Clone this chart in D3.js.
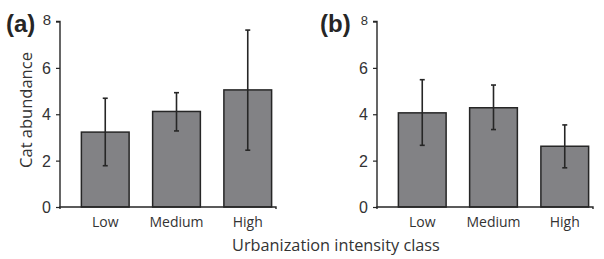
<!DOCTYPE html>
<html>
<head>
<meta charset="utf-8">
<script src="https://cdn.jsdelivr.net/npm/d3@7"></script>
<style>
  body { margin: 0; background: #fff; }
  svg { display: block; }
</style>
</head>
<body>
<svg id="chart" width="604" height="259"></svg>
<script>
const categories = ["Low", "Medium", "High"]
const yTicks = [0, 2, 4, 6, 8]

// panel (a)
const meanA = [3.23, 4.12, 5.05]
const upperA = [4.69, 4.93, 7.63]
const lowerA = [1.78, 3.28, 2.45]

// panel (b)
const meanB = [4.06, 4.28, 2.62]
const upperB = [5.49, 5.26, 3.54]
const lowerB = [2.66, 3.34, 1.69]

const svg = d3.select('#chart')
const ink = '#262626'

const panels = [
  { tag: '(a)', x0: 60, x1: 293, mean: meanA, upper: upperA, lower: lowerA, tagX: 6, topTick: 15 },
  { tag: '(b)', x0: 377, x1: 610, mean: meanB, upper: upperB, lower: lowerB, tagX: 320, topTick: 13 },
]

const y = d3.scaleLinear([0, 8], [207, 21.5])

panels.forEach(p => {
  const x = d3.scaleBand(categories, [p.x0, p.x1]).paddingInner(0.33).paddingOuter(0.3)
  const g = svg.append('g')

  // y axis
  g.append('g')
      .attr('transform', `translate(${p.x0},0)`)
      .call(d3.axisLeft(y).tickValues(yTicks).tickSize(4).tickPadding(5))
      .call(a => a.select('.domain').attr('stroke', ink).attr('stroke-width', 1.4).attr('d', `M-4,${y(8)}H0V${y(0)}`))
      .call(a => a.selectAll('.tick line').attr('stroke', ink).attr('stroke-width', 1.2))
      .call(a => a.selectAll('.tick text')
          .attr('font-family', 'Liberation Sans, Arial, sans-serif')
          .attr('font-size', d => d === 8 ? p.topTick : 16)
          .attr('dy', d => d === 8 ? '0.2em' : '0.35em')
          .attr('fill', '#333'))

  // bars
  g.selectAll('rect')
      .data(p.mean)
      .join('rect')
      .attr('x', (d, i) => x(categories[i]))
      .attr('y', d => y(d))
      .attr('width', x.bandwidth())
      .attr('height', d => y(0) - y(d))
      .attr('fill', '#828285')
      .attr('stroke', ink)
      .attr('stroke-width', 1.5)

  // error bars
  const cx = i => x(categories[i]) + x.bandwidth() / 2
  g.selectAll('line.err')
      .data(p.mean)
      .join('line')
      .attr('class', 'err')
      .attr('x1', (d, i) => cx(i)).attr('x2', (d, i) => cx(i))
      .attr('y1', (d, i) => y(p.upper[i])).attr('y2', (d, i) => y(p.lower[i]))
      .attr('stroke', ink).attr('stroke-width', 1.6)
  ;['upper', 'lower'].forEach(k => {
    g.selectAll('line.cap-' + k)
        .data(p[k])
        .join('line')
        .attr('class', 'cap-' + k)
        .attr('x1', (d, i) => cx(i) - 2.5).attr('x2', (d, i) => cx(i) + 2.5)
        .attr('y1', d => y(d)).attr('y2', d => y(d))
        .attr('stroke', ink).attr('stroke-width', 1.6)
  })

  // x axis
  g.append('g')
      .attr('transform', `translate(0,${y(0)})`)
      .call(d3.axisBottom(x).tickSize(0).tickPadding(10))
      .call(a => a.select('.domain').attr('stroke', ink).attr('stroke-width', 1.4)
          .attr('d', `M${p.x0},2V0H${p.x1 - 17}V2`))
      .call(a => a.selectAll('.tick text')
          .attr('font-family', 'Open Sans, sans-serif')
          .attr('font-size', 14)
          .attr('fill', '#333'))

  // panel tag
  g.append('text')
      .attr('x', p.tagX)
      .attr('y', 32)
      .attr('font-family', 'Liberation Sans, Arial, sans-serif')
      .attr('font-weight', 'bold')
      .attr('font-size', 24)
      .attr('fill', ink)
      .text(p.tag)
})

svg.append('text')
    .attr('transform', `translate(32,110) rotate(-90)`)
    .attr('text-anchor', 'middle')
    .attr('font-family', 'Open Sans, sans-serif')
    .attr('font-size', 16.5)
    .attr('fill', '#333')
    .text('Cat abundance')

svg.append('text')
    .attr('x', 336)
    .attr('y', 251)
    .attr('text-anchor', 'middle')
    .attr('font-family', 'Open Sans, sans-serif')
    .attr('font-size', 16.3)
    .attr('fill', '#333')
    .text('Urbanization intensity class')
</script>
</body>
</html>
